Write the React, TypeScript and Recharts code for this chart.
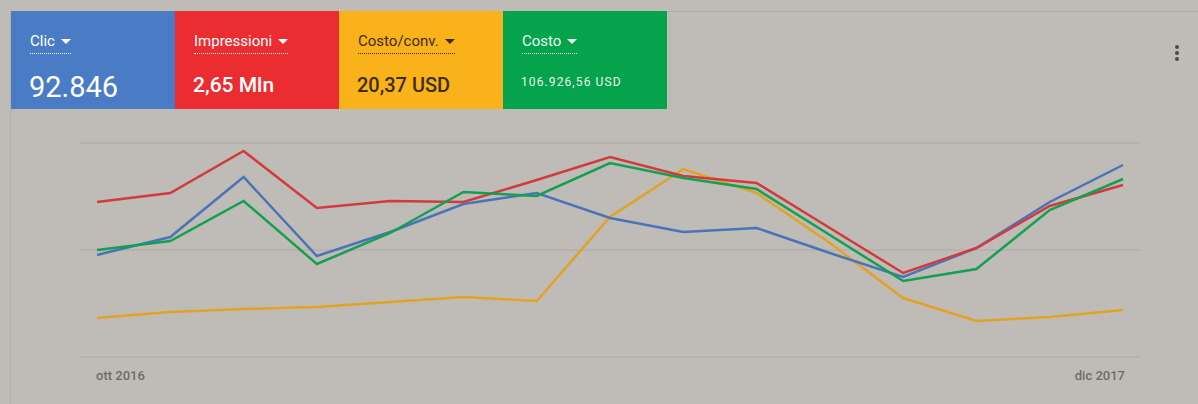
import React from "react";
import { LineChart, Line, XAxis, YAxis, CartesianGrid } from "recharts";

const months = [
  "ott 2016", "nov 2016", "dic 2016", "gen 2017", "feb 2017", "mar 2017", "apr 2017",
  "mag 2017", "giu 2017", "lug 2017", "ago 2017", "set 2017", "ott 2017", "nov 2017", "dic 2017",
];

// valori relativi (scala 0–214, ogni serie normalizzata come nel grafico Ads)
const clic = [102, 120, 180, 101, 125, 153, 164, 139, 125, 129, 104, 80, 109, 155, 192];
const impressioni = [155, 164, 206, 149, 156, 155, 177, 200, 181, 174, 129, 84, 109, 151, 172];
const costoConv = [39, 45, 48, 50, 55, 60, 56, 140, 188, 164, 114, 59, 36, 40, 47];
const costo = [107, 116, 156, 93, 124, 165, 161, 194, 179, 168, 122, 76, 88, 147, 178];

const yTicks = [0, 107, 214];

const data = months.map((m, i) => ({
  month: m,
  clic: clic[i],
  impressioni: impressioni[i],
  costoConv: costoConv[i],
  costo: costo[i],
}));

const cards = [
  { label: "Clic", value: "92.846", bg: "#4a7bc5", fg: "#ffffff", size: 29, weight: 400, spacing: 0 },
  { label: "Impressioni", value: "2,65 Mln", bg: "#eb2c30", fg: "#ffffff", size: 21, weight: 500, spacing: 0 },
  { label: "Costo/conv.", value: "20,37 USD", bg: "#fab21a", fg: "#3a2d10", size: 20, weight: 500, spacing: 0 },
  { label: "Costo", value: "106.926,56 USD", bg: "#05a34c", fg: "#eaf6ee", size: 12, weight: 400, spacing: 1.1 },
];

function Arrow({ color }: { color: string }) {
  return (
    <svg width="10" height="6" style={{ marginLeft: 6, verticalAlign: "middle" }}>
      <polygon points="0,0 10,0 5,5" fill={color} />
    </svg>
  );
}

function EdgeTick(props: any) {
  const { x, y, payload } = props;
  const first = payload.value === months[0];
  const last = payload.value === months[months.length - 1];
  if (!first && !last) return null;
  return (
    <text
      x={first ? x - 1 : x + 2}
      y={y + 15}
      textAnchor={first ? "start" : "end"}
      fontSize={13}
      fontWeight={500}
      fill="#6e6b66"
      fontFamily="Roboto"
    >
      {payload.value}
    </text>
  );
}

export default function App() {
  return (
    <div
      style={{
        position: "fixed",
        left: 0,
        top: 0,
        width: 1198,
        height: 404,
        background: "#bfbcb7",
        fontFamily: "Roboto, sans-serif",
        overflow: "hidden",
      }}
    >
      <div
        style={{
          position: "absolute",
          left: 10,
          top: 11,
          width: 1188,
          height: 400,
          borderTop: "1px solid #b0ada8",
          borderLeft: "1px solid #b4b1ac",
        }}
      />
      <div style={{ position: "absolute", left: 0, top: 0 }}>
        <LineChart
          width={1198}
          height={404}
          data={data}
          margin={{ top: 143, right: 58, bottom: 17, left: 80 }}
        >
          <CartesianGrid vertical={false} stroke="#b3b0ab" strokeWidth={1.5} />
          <XAxis
            dataKey="month"
            axisLine={false}
            tickLine={false}
            interval={0}
            height={30}
            padding={{ left: 17, right: 17 }}
            tick={<EdgeTick />}
          />
          <YAxis hide domain={[0, 214]} ticks={yTicks} />
          <Line type="linear" dataKey="costoConv" stroke="#e2a324" strokeWidth={2.5} dot={false} isAnimationActive={false} />
          <Line type="linear" dataKey="clic" stroke="#4a74b8" strokeWidth={2.5} dot={false} isAnimationActive={false} />
          <Line type="linear" dataKey="impressioni" stroke="#d23a3c" strokeWidth={2.5} dot={false} isAnimationActive={false} />
          <Line type="linear" dataKey="costo" stroke="#13a050" strokeWidth={2.5} dot={false} isAnimationActive={false} />
        </LineChart>
      </div>
      <div style={{ position: "absolute", left: 11, top: 11, display: "flex" }}>
        {cards.map((c) => (
          <div
            key={c.label}
            style={{
              width: 164,
              height: 98,
              background: c.bg,
              color: c.fg,
              position: "relative",
              boxSizing: "border-box",
            }}
          >
            <div
              style={{
                position: "absolute",
                left: 19,
                top: 21,
                fontSize: 15,
                lineHeight: "18px",
                paddingBottom: 3,
                borderBottom: `1px dotted ${c.fg}`,
                whiteSpace: "nowrap",
              }}
            >
              {c.label}
              <Arrow color={c.fg} />
            </div>
            <div
              style={{
                position: "absolute",
                left: 18,
                top: c.size > 25 ? 59 : c.size > 15 ? 62 : 64,
                fontSize: c.size,
                fontWeight: c.weight,
                letterSpacing: c.spacing,
                whiteSpace: "nowrap",
                lineHeight: 1.2,
              }}
            >
              {c.value}
            </div>
          </div>
        ))}
      </div>
      <div style={{ position: "absolute", left: 1175, top: 45 }}>
        {[0, 1, 2].map((i) => (
          <div
            key={i}
            style={{
              width: 4,
              height: 4,
              borderRadius: 2,
              background: "#4d4b48",
              marginBottom: 2,
            }}
          />
        ))}
      </div>
    </div>
  );
}
